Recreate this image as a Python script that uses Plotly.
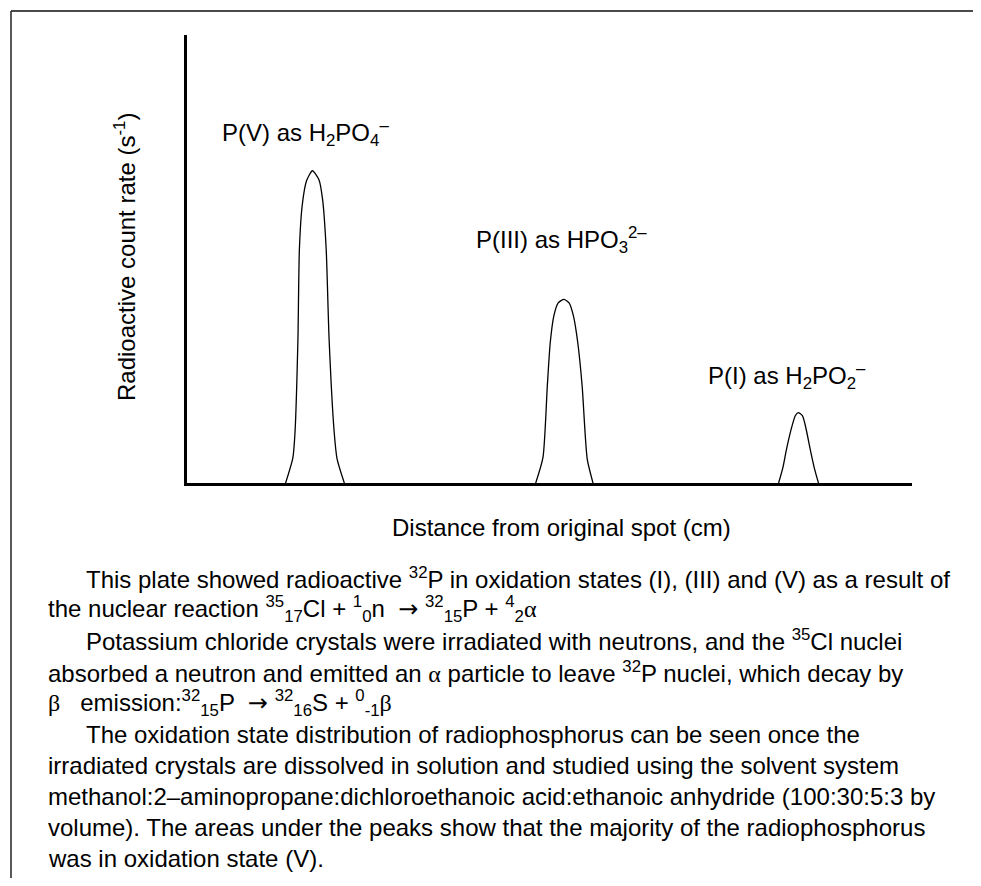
import plotly.graph_objects as go

# ---------------- data ----------------
# Distance from original spot (arbitrary cm scale 0-10) and count rate (arbitrary 0-10)
peak_v_x = [1.36, 1.46, 1.49, 1.53, 1.55, 1.59, 1.65, 1.73, 1.82, 1.87, 1.92, 1.96, 2.03, 2.07, 2.17]
peak_v_y = [0.00, 0.56, 1.14, 3.21, 5.21, 6.21, 6.75, 6.97, 6.77, 6.33, 5.21, 3.21, 1.14, 0.54, 0.00]

peak_iii_x = [4.81, 4.91, 4.97, 5.01, 5.06, 5.12, 5.20, 5.27, 5.33, 5.39, 5.45, 5.52, 5.60]
peak_iii_y = [0.00, 0.57, 2.17, 3.13, 3.73, 4.02, 4.10, 4.02, 3.73, 3.13, 2.17, 0.54, 0.00]

peak_i_x = [8.16, 8.22, 8.27, 8.34, 8.39, 8.43, 8.49, 8.54, 8.60, 8.65, 8.71]
peak_i_y = [0.00, 0.35, 0.76, 1.24, 1.50, 1.57, 1.50, 1.20, 0.72, 0.35, 0.00]

peak_labels = [
    "P(V) as H<sub>2</sub>PO<sub>4</sub><sup>–</sup>",
    "P(III) as HPO<sub>3</sub><sup>2–</sup>",
    "P(I) as H<sub>2</sub>PO<sub>2</sub><sup>–</sup>",
]

x_title = "Distance from original spot (cm)"
y_title = "Radioactive count rate (s<sup>-1</sup>)"

GR = '<span style="font-family:Liberation Serif, Times New Roman, serif">{}</span>'
AR = '<span style="font-family:DejaVu Sans, sans-serif">{}</span>'
alpha, beta, arrow = GR.format("α"), GR.format("β"), AR.format("→")

paragraph_lines = [
    "This plate showed radioactive <sup>32</sup>P in oxidation states (I), (III) and (V) as a result of",
    "the nuclear reaction <sup>35</sup><sub>17</sub>Cl + <sup>1</sup><sub>0</sub>n \u00a0" + arrow
    + " <sup>32</sup><sub>15</sub>P + <sup>4</sup><sub>2</sub>" + alpha,
    "Potassium chloride crystals were irradiated with neutrons, and the <sup>35</sup>Cl nuclei",
    "absorbed a neutron and emitted an " + alpha + " particle to leave <sup>32</sup>P nuclei, which decay by",
    beta + "\u00a0\u00a0 emission:<sup>32</sup><sub>15</sub>P \u00a0" + arrow
    + " <sup>32</sup><sub>16</sub>S + <sup>0</sup><sub>-1</sub>" + beta,
    "The oxidation state distribution of radiophosphorus can be seen once the",
    "irradiated crystals are dissolved in solution and studied using the solvent system",
    "methanol:2–aminopropane:dichloroethanoic acid:ethanoic anhydride (100:30:5:3 by",
    "volume). The areas under the peaks show that the majority of the radiophosphorus",
    "was in oxidation state (V).",
]
paragraph_indented = [True, False, True, False, False, True, False, False, False, False]

# ---------------- layout geometry ----------------
OFF = 8                      # page offset of the figure (body margin)
W, H = 973, 870
ML, MT, PW, PH = 179, 27, 725, 448
MR, MB = W - ML - PW, H - MT - PH
FONT = "Liberation Sans, Arial, Helvetica, sans-serif"
FS = 24
PAD = 2


def pxx(x):                  # page pixel -> paper x
    return (x - OFF - ML) / PW


def pxy(y):                  # page pixel -> paper y
    return (MT + PH - (y - OFF)) / PH


fig = go.Figure()
for xs, ys, name in [(peak_v_x, peak_v_y, "P(V)"), (peak_iii_x, peak_iii_y, "P(III)"),
                     (peak_i_x, peak_i_y, "P(I)")]:
    fig.add_trace(go.Scatter(x=xs, y=ys, mode="lines", name=name,
                             line=dict(color="black", width=1.3, shape="spline", smoothing=0.6),
                             hoverinfo="skip"))

annotations = []
# peak labels
for text, (lx, ly) in zip(peak_labels, [(222, 133), (476, 240), (708, 376)]):
    annotations.append(dict(text=text, xref="paper", yref="paper", x=pxx(lx - PAD), y=pxy(ly),
                            xanchor="left", yanchor="middle", showarrow=False,
                            font=dict(size=FS, color="black", family=FONT)))
# axis titles
annotations.append(dict(text=y_title, xref="paper", yref="paper", x=pxx(125), y=pxy(257),
                        textangle=-90, xanchor="center", yanchor="middle", showarrow=False,
                        font=dict(size=FS, color="black", family=FONT)))
annotations.append(dict(text=x_title, xref="paper", yref="paper", x=pxx(561), y=pxy(527),
                        xanchor="center", yanchor="middle", showarrow=False,
                        font=dict(size=FS, color="black", family=FONT)))
# caption paragraph
for i, (line, ind) in enumerate(zip(paragraph_lines, paragraph_indented)):
    annotations.append(dict(text=line, xref="paper", yref="paper",
                            x=pxx((86 if ind else 48) - PAD), y=pxy(578 + 31.2 * i),
                            xanchor="left", yanchor="middle", showarrow=False,
                            font=dict(size=FS, color="black", family=FONT)))

shapes = [
    dict(type="line", xref="paper", yref="paper", x0=pxx(11), y0=pxy(11), x1=pxx(990), y1=pxy(11),
         line=dict(color="#4a4a4a", width=2)),
    dict(type="line", xref="paper", yref="paper", x0=pxx(11), y0=pxy(11), x1=pxx(11), y1=pxy(900),
         line=dict(color="#222222", width=1.5)),
]

axis_common = dict(showgrid=False, zeroline=False, showticklabels=False, ticks="",
                   showline=True, linecolor="black", linewidth=3, fixedrange=True)
fig.update_layout(
    width=W, height=H,
    margin=dict(l=ML, r=MR, t=MT, b=MB, pad=0),
    paper_bgcolor="white", plot_bgcolor="white",
    showlegend=False,
    xaxis=dict(range=[0, 10], **axis_common),
    yaxis=dict(range=[0, 10], **axis_common),
    annotations=annotations,
    shapes=shapes,
    font=dict(family=FONT, color="black", size=FS),
)

fig.write_html("out.html", config={"displayModeBar": False})
